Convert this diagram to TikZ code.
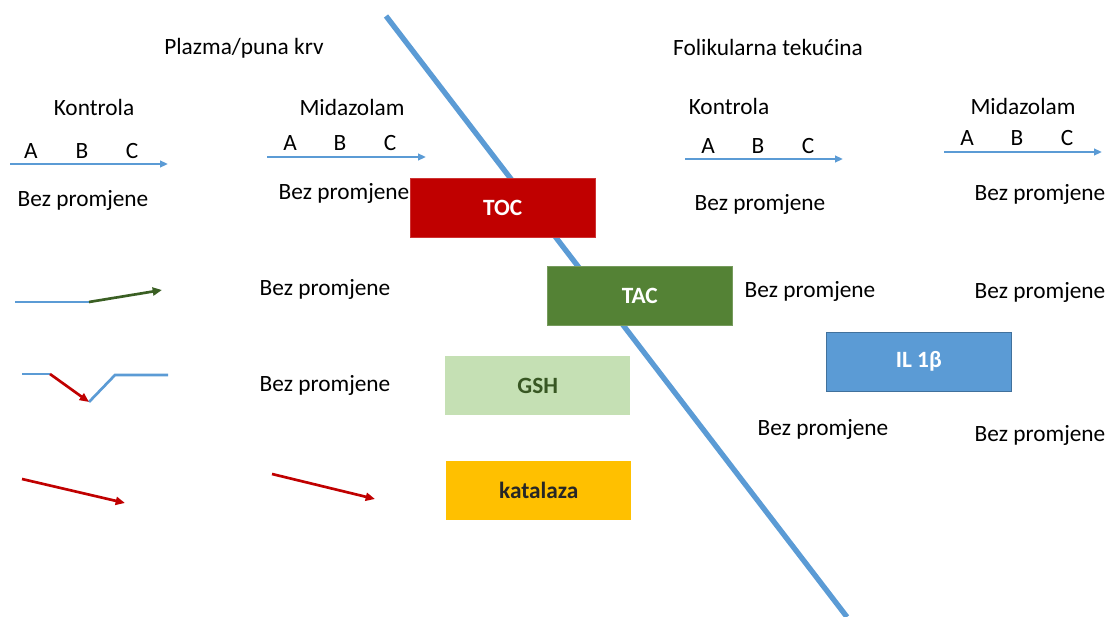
\documentclass[tikz,border=0pt]{standalone}
\usepackage{fontspec}
\setmainfont{Carlito}
\usetikzlibrary{arrows.meta}
\definecolor{lblue}{HTML}{5B9BD5}
\definecolor{dblue}{HTML}{41719C}
\definecolor{tocred}{HTML}{C00000}
\definecolor{tacgreen}{HTML}{548235}
\definecolor{gshfill}{HTML}{C5E0B4}
\definecolor{gshtext}{HTML}{385723}
\definecolor{katfill}{HTML}{FFC000}
\definecolor{arrgreen}{HTML}{3A5F23}
\definecolor{arrred}{HTML}{C00000}
\begin{document}
\begin{tikzpicture}[x=0.75pt,y=-0.75pt,
  every node/.style={font=\fontsize{17.5}{20}\selectfont, inner sep=0pt},
  lbl/.style={anchor=center},
  box/.style={minimum width=138.75pt, minimum height=44.25pt, anchor=north west, font=\fontsize{17.5}{20}\selectfont\bfseries},
  axis/.style={lblue, line width=1.5pt, -{Triangle[length=6pt,width=5pt]}},
  bl/.style={lblue, line width=2pt},
  ga/.style={arrgreen, line width=2pt, -{Triangle[length=7pt,width=6pt]}},
  ra/.style={arrred, line width=2pt, -{Triangle[length=7pt,width=6pt]}}]
\useasboundingbox (0,0) rectangle (1108,617);
% diagonal
\coordinate (d1) at (386,16);
\coordinate (d2) at (847,617);
\draw[lblue, line width=4pt] (d1) -- (d2);
% headers
\node[lbl] (h1) at (244,48) {Plazma/puna krv};
\node[lbl] (h2) at (768,47) {Folikularna tekućina};
\node[lbl] (k1) at (94,107) {Kontrola};
\node[lbl] (m1) at (352,107) {Midazolam};
\node[lbl] (k2) at (729,106) {Kontrola};
\node[lbl] (m2) at (1023,106) {Midazolam};
% ABC axes
\coordinate (a1s) at (10,164); \coordinate (a1e) at (168,164);
\draw[axis] (a1s) -- (a1e);
\node[lbl] (a1A) at (31,151) {A}; \node[lbl] (a1B) at (82,151) {B}; \node[lbl] (a1C) at (132,151) {C};
\coordinate (a2s) at (267,157); \coordinate (a2e) at (426,157);
\draw[axis] (a2s) -- (a2e);
\node[lbl] (a2A) at (290,143) {A}; \node[lbl] (a2B) at (340,143) {B}; \node[lbl] (a2C) at (390,143) {C};
\coordinate (a3s) at (685,159); \coordinate (a3e) at (843,159);
\draw[axis] (a3s) -- (a3e);
\node[lbl] (a3A) at (708,146) {A}; \node[lbl] (a3B) at (758,146) {B}; \node[lbl] (a3C) at (808,146) {C};
\coordinate (a4s) at (944,152); \coordinate (a4e) at (1102,152);
\draw[axis] (a4s) -- (a4e);
\node[lbl] (a4A) at (967,138) {A}; \node[lbl] (a4B) at (1017,138) {B}; \node[lbl] (a4C) at (1067,138) {C};
% Bez promjene
\node[lbl] (b1) at (83,200) {Bez promjene};
\node[lbl] (b2) at (344,193) {Bez promjene};
\node[lbl] (b3) at (760,204) {Bez promjene};
\node[lbl] (b4) at (1040,194) {Bez promjene};
\node[lbl] (b5) at (325,289) {Bez promjene};
\node[lbl] (b6) at (810,291) {Bez promjene};
\node[lbl] (b7) at (1040,292) {Bez promjene};
\node[lbl] (b8) at (325,385) {Bez promjene};
\node[lbl] (b9) at (823,429) {Bez promjene};
\node[lbl] (b10) at (1040,435) {Bez promjene};
% boxes
\node[box, fill=tocred, draw=tocred!80!white, text=white] (toc) at (410,178) {TOC};
\node[box, fill=tacgreen, draw=tacgreen!80!white, text=white] (tac) at (547,266) {TAC};
\node[box, fill=gshfill, text=gshtext] (gsh) at (445,356) {GSH};
\node[box, fill=katfill, text=black!85] (kat) at (446,461) {katalaza};
\node[box, fill=lblue, draw=dblue, text=white] (il) at (826,332) {IL 1β};
% row 2 trend
\coordinate (r2a) at (15,302); \coordinate (r2b) at (89,302); \coordinate (r2c) at (162,290);
\draw[bl] (r2a) -- (r2b);
\draw[ga] (r2b) -- (r2c);
% row 3 trend
\coordinate (r3a) at (22,374); \coordinate (r3b) at (50,374); \coordinate (r3c) at (89,402);
\coordinate (r3d) at (115,375); \coordinate (r3e) at (168,375);
\draw[bl] (r3a) -- (r3b);
\draw[bl, line join=miter] (r3c) -- (r3d) -- (r3e);
\draw[ra] (r3b) -- (r3c);
% row 4 trends
\coordinate (r4a) at (22,479); \coordinate (r4b) at (125,503);
\draw[ra] (r4a) -- (r4b);
\coordinate (r4c) at (272,474); \coordinate (r4d) at (375,499);
\draw[ra] (r4c) -- (r4d);
\end{tikzpicture}
\end{document}
